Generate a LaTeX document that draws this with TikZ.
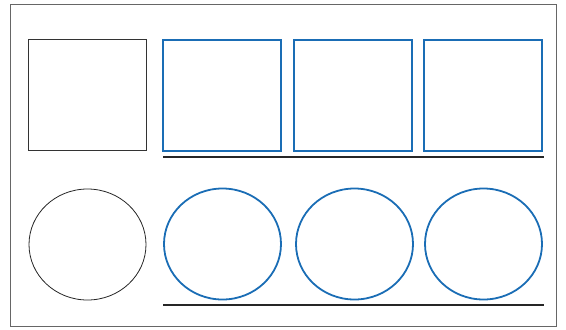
\documentclass[tikz,border=0pt]{standalone}
\usepackage{xcolor}
\usetikzlibrary{shapes.geometric}
\definecolor{shapeblue}{HTML}{1A6DB5}

\begin{document}
\begin{tikzpicture}[
  x=1bp, y=-1bp,
  plainsq/.style={rectangle, draw=black!80, line width=0.8bp, inner sep=0pt,
    minimum width=118bp, minimum height=111bp},
  bluesq/.style={plainsq, draw=shapeblue, line width=2bp},
  plaincirc/.style={ellipse, draw=black!85, line width=0.8bp, inner sep=0pt,
    minimum width=117bp, minimum height=111bp},
  bluecirc/.style={plaincirc, draw=shapeblue, line width=1.8bp},
  rule/.style={draw=black!85, line width=1.8bp},
]
  \useasboundingbox (0,0) rectangle (566,329);
  \draw[black!60, line width=1bp] (10.5,4.5) rectangle (556,326);
  % top row
  \node[plainsq] (sqA) at (87,95) {};
  \node[bluesq] (sqB) at (221.5,95) {};
  \node[bluesq] (sqC) at (353,95) {};
  \node[bluesq] (sqD) at (482.5,95) {};
  \coordinate (topL) at (163,157);
  \coordinate (topR) at (544,157);
  \draw[rule] (topL) -- (topR);
  % bottom row
  \node[plaincirc] (ciA) at (87.5,244.5) {};
  \node[bluecirc] (ciB) at (222.5,244) {};
  \node[bluecirc] (ciC) at (354.5,244) {};
  \node[bluecirc] (ciD) at (483.5,244) {};
  \coordinate (botL) at (163,305);
  \coordinate (botR) at (544,305);
  \draw[rule] (botL) -- (botR);
\end{tikzpicture}
\end{document}
